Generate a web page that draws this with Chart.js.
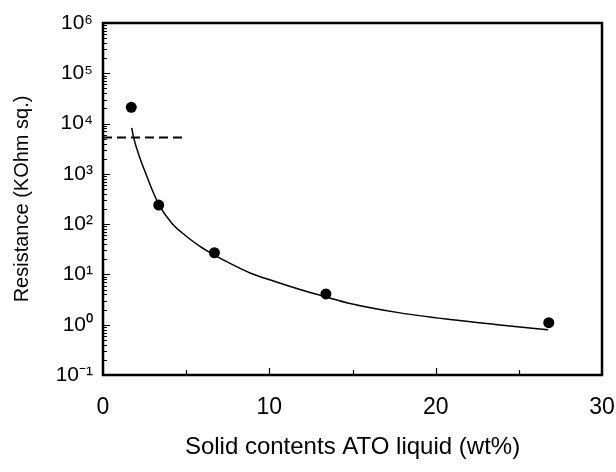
<!DOCTYPE html>
<html>
<head>
<meta charset="utf-8">
<script src="https://cdn.jsdelivr.net/npm/chart.js@4"></script>
<style>
  html, body { margin: 0; padding: 0; background: #fff; }
  #wrap { width: 616px; height: 472px; }
</style>
</head>
<body>
<div id="wrap"><canvas id="resistance-chart"></canvas></div>
<script>
// measured points
const solidContents = [1.7, 3.35, 6.7, 13.4, 26.8];
const resistance = [21000, 240, 27, 4.1, 1.1];

// fitted curve
const fitX = [1.73, 1.83, 2.22, 2.63, 3.01, 3.37, 4.15, 4.99, 5.83, 6.67, 7.76, 8.84,
              10.34, 11.84, 13.41, 14.85, 17.86, 20.86, 23.87, 26.76];
const fitY = [8180, 5420, 2070, 908, 437, 241, 103, 58, 36, 24.4, 15.8, 10.7,
              7.26, 5.03, 3.57, 2.65, 1.72, 1.27, 0.99, 0.79];

// dashed reference level
const limitX = [0, 5.05];
const limitY = [5300, 5300];

const xTicks = [0, 10, 20, 30];
const yExponents = [-1, 0, 1, 2, 3, 4, 5, 6];

const sup = { '-': '\u207B', '0': '\u2070', '1': '\u00B9', '2': '\u00B2', '3': '\u00B3',
  '4': '\u2074', '5': '\u2075', '6': '\u2076', '7': '\u2077', '8': '\u2078', '9': '\u2079' };
const powLabel = e => '10' + String(e).split('').map(c => sup[c]).join('');

const toXY = (xs, ys) => xs.map((x, i) => ({ x: x, y: ys[i] }));

// frame + inward tick marks
const frameAndTicks = {
    id: 'frameAndTicks',
    afterDraw(chart) {
        const { ctx, chartArea: a, scales } = chart;
        ctx.save();
        ctx.strokeStyle = '#000';
        ctx.lineWidth = 1.2;
        ctx.beginPath();
        // y ticks: decades long, 2..9 short
        for (let e = -1; e <= 6; e++) {
            for (let m = 1; m <= 9; m++) {
                const v = m * Math.pow(10, e);
                if (v > 1e6) break;
                const py = Math.round(scales.y.getPixelForValue(v)) + 0.5;
                const len = m === 1 ? 7 : 4;
                ctx.moveTo(a.left, py);
                ctx.lineTo(a.left + len, py);
            }
        }
        // x ticks
        for (let v = 5; v < 30; v += 5) {
            const px = Math.round(scales.x.getPixelForValue(v)) + 0.5;
            const len = v % 10 === 0 ? 7 : 5;
            ctx.moveTo(px, a.bottom);
            ctx.lineTo(px, a.bottom - len);
        }
        ctx.stroke();
        ctx.lineWidth = 2.5;
        ctx.strokeRect(a.left, a.top, a.right - a.left, a.bottom - a.top);
        ctx.restore();
    }
};

Chart.defaults.font.family = "'Liberation Sans', Arial, sans-serif";
Chart.defaults.color = '#000';

const ctx = document.getElementById('resistance-chart').getContext('2d');

const chart = new Chart(ctx, {
    type: 'scatter',
    data: {
        datasets: [{
            label: 'Measured',
            data: toXY(solidContents, resistance),
            showLine: false,
            pointRadius: 5.5,
            pointBackgroundColor: '#000',
            pointBorderColor: '#000',
            pointBorderWidth: 0
        }, {
            label: 'Fit',
            data: toXY(fitX, fitY),
            showLine: true,
            borderColor: '#000',
            borderWidth: 1.5,
            pointRadius: 0,
            cubicInterpolationMode: 'monotone',
            fill: false
        }, {
            label: 'Limit',
            data: toXY(limitX, limitY),
            showLine: true,
            borderColor: '#000',
            borderWidth: 2,
            borderDash: [9, 5],
            pointRadius: 0,
            fill: false
        }]
    },
    options: {
        responsive: true,
        maintainAspectRatio: false,
        animation: false,
        layout: { padding: { top: 23, right: 14, left: 0, bottom: 0 } },
        plugins: {
            legend: { display: false },
            tooltip: { enabled: false }
        },
        scales: {
            x: {
                type: 'linear',
                min: 0,
                max: 30,
                afterBuildTicks: s => { s.ticks = xTicks.map(v => ({ value: v })); },
                afterFit: s => { s.height = 97; s.paddingLeft = 0; s.paddingRight = 0; },
                grid: { display: false, drawTicks: false },
                border: { display: false },
                ticks: { font: { size: 23 }, padding: 19, maxRotation: 0 },
                title: {
                    display: true,
                    text: 'Solid contents ATO liquid (wt%)',
                    font: { size: 24 },
                    padding: { top: 0, bottom: 10 }
                }
            },
            y: {
                type: 'logarithmic',
                min: 0.1,
                max: 1e6,
                afterBuildTicks: s => { s.ticks = yExponents.map(e => ({ value: Math.pow(10, e) })); },
                afterFit: s => { s.width = 103; s.paddingTop = 0; s.paddingBottom = 0; },
                grid: { display: false, drawTicks: false },
                border: { display: false },
                ticks: {
                    font: { size: 21 },
                    padding: 10,
                    callback: v => powLabel(Math.round(Math.log10(v)))
                },
                title: {
                    display: true,
                    text: 'Resistance (KOhm sq.)',
                    font: { size: 20 },
                    padding: { top: 10, bottom: 0 }
                }
            }
        }
    },
    plugins: [frameAndTicks]
});
</script>
</body>
</html>
